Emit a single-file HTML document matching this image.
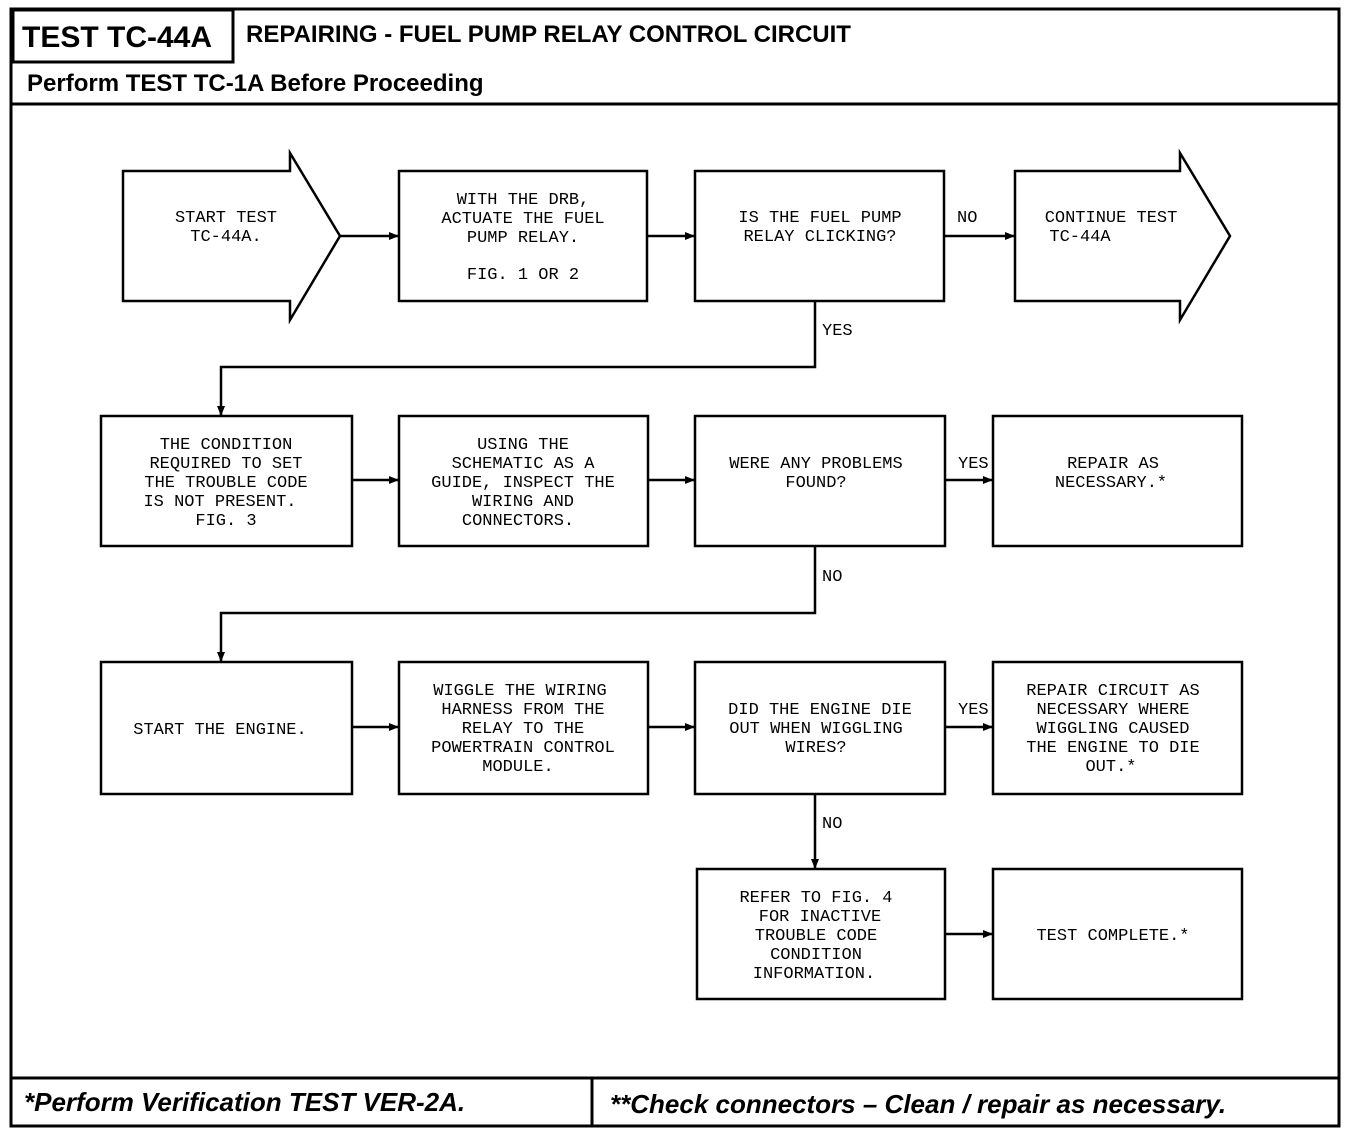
<!DOCTYPE html>
<html><head><meta charset="utf-8"><style>
body{margin:0;background:#fff}
svg{display:block}
.t{font-family:"Liberation Mono",monospace;font-size:17px;fill:#000;text-anchor:middle}
.l{font-family:"Liberation Mono",monospace;font-size:17px;fill:#000}
.h{font-family:"Liberation Sans",sans-serif;font-weight:bold;fill:#000}
</style></head><body>
<svg width="1360" height="1136" viewBox="0 0 1360 1136" xmlns="http://www.w3.org/2000/svg">
<defs><marker id="a" markerWidth="10" markerHeight="8" refX="9" refY="4" orient="auto" markerUnits="userSpaceOnUse"><path d="M0,0 L10,4 L0,8 Z" fill="#000"/></marker></defs>
<g fill="none" stroke="#000" stroke-width="3">
<rect x="11" y="9" width="1328" height="1117"/>
<rect x="13" y="10" width="220" height="52"/>
<line x1="11" y1="62" x2="13" y2="62"/>
<line x1="11" y1="104" x2="1339" y2="104"/>
<line x1="11" y1="1078" x2="1339" y2="1078"/>
<line x1="592" y1="1078" x2="592" y2="1126"/>
</g>
<text class="h" x="22" y="47" font-size="30">TEST TC-44A</text>
<text class="h" x="246" y="42" font-size="24">REPAIRING - FUEL PUMP RELAY CONTROL CIRCUIT</text>
<text class="h" x="27" y="91" font-size="24">Perform TEST TC-1A Before Proceeding</text>
<text class="h" x="24" y="1111" font-size="26" font-style="italic">*Perform Verification TEST VER-2A.</text>
<text class="h" x="610" y="1113" font-size="26" font-style="italic">**Check connectors – Clean / repair as necessary.</text>

<g fill="#fff" stroke="#000" stroke-width="2.5">
<path d="M123,171 H290 V153 L340,236 L290,320 V301 H123 Z"/>
<path d="M1015,171 H1180 V153 L1230,236 L1180,320 V301 H1015 Z"/>
<rect x="399" y="171" width="248" height="130"/>
<rect x="695" y="171" width="249" height="130"/>
<rect x="101" y="416" width="251" height="130"/>
<rect x="399" y="416" width="249" height="130"/>
<rect x="695" y="416" width="250" height="130"/>
<rect x="993" y="416" width="249" height="130"/>
<rect x="101" y="662" width="251" height="132"/>
<rect x="399" y="662" width="249" height="132"/>
<rect x="695" y="662" width="250" height="132"/>
<rect x="993" y="662" width="249" height="132"/>
<rect x="697" y="869" width="248" height="130"/>
<rect x="993" y="869" width="249" height="130"/>
</g>
<g fill="none" stroke="#000" stroke-width="2.5" marker-end="url(#a)">
<line x1="340" y1="236" x2="398" y2="236"/>
<line x1="647" y1="236" x2="694" y2="236"/>
<line x1="944" y1="236" x2="1014" y2="236"/>
<path d="M815,301 V367 H221 V415"/>
<line x1="352" y1="480" x2="398" y2="480"/>
<line x1="648" y1="480" x2="694" y2="480"/>
<line x1="945" y1="480" x2="992" y2="480"/>
<path d="M815,546 V613 H221 V661"/>
<line x1="352" y1="727" x2="398" y2="727"/>
<line x1="648" y1="727" x2="694" y2="727"/>
<line x1="945" y1="727" x2="992" y2="727"/>
<line x1="815" y1="794" x2="815" y2="868"/>
<line x1="945" y1="934" x2="992" y2="934"/>
</g>
<text class="l" x="957" y="222">NO</text>
<text class="l" x="822" y="335">YES</text>
<text class="l" x="958" y="468">YES</text>
<text class="l" x="822" y="581">NO</text>
<text class="l" x="958" y="714">YES</text>
<text class="l" x="822" y="828">NO</text>

<text class="t" x="226" y="222">START TEST</text>
<text class="t" x="226" y="241">TC-44A.</text>
<text class="t" x="523" y="204">WITH THE DRB,</text>
<text class="t" x="523" y="223">ACTUATE THE FUEL</text>
<text class="t" x="523" y="242">PUMP RELAY.</text>
<text class="t" x="523" y="279">FIG. 1 OR 2</text>
<text class="t" x="820" y="222">IS THE FUEL PUMP</text>
<text class="t" x="820" y="241">RELAY CLICKING?</text>
<text class="t" x="1111" y="222">CONTINUE TEST</text>
<text class="t" x="1080" y="241">TC-44A</text>

<text class="t" x="226" y="449">THE CONDITION</text>
<text class="t" x="226" y="468">REQUIRED TO SET</text>
<text class="t" x="226" y="487">THE TROUBLE CODE</text>
<text class="t" x="220" y="506">IS NOT PRESENT.</text>
<text class="t" x="226" y="525">FIG. 3</text>
<text class="t" x="523" y="449">USING THE</text>
<text class="t" x="523" y="468">SCHEMATIC AS A</text>
<text class="t" x="523" y="487">GUIDE, INSPECT THE</text>
<text class="t" x="523" y="506">WIRING AND</text>
<text class="t" x="518" y="525">CONNECTORS.</text>
<text class="t" x="816" y="468">WERE ANY PROBLEMS</text>
<text class="t" x="816" y="487">FOUND?</text>
<text class="t" x="1113" y="468">REPAIR AS</text>
<text class="t" x="1111" y="487">NECESSARY.*</text>

<text class="t" x="220" y="734">START THE ENGINE.</text>
<text class="t" x="520" y="695">WIGGLE THE WIRING</text>
<text class="t" x="523" y="714">HARNESS FROM THE</text>
<text class="t" x="523" y="733">RELAY TO THE</text>
<text class="t" x="523" y="752">POWERTRAIN CONTROL</text>
<text class="t" x="518" y="771">MODULE.</text>
<text class="t" x="820" y="714">DID THE ENGINE DIE</text>
<text class="t" x="816" y="733">OUT WHEN WIGGLING</text>
<text class="t" x="816" y="752">WIRES?</text>
<text class="t" x="1113" y="695">REPAIR CIRCUIT AS</text>
<text class="t" x="1113" y="714">NECESSARY WHERE</text>
<text class="t" x="1113" y="733">WIGGLING CAUSED</text>
<text class="t" x="1113" y="752">THE ENGINE TO DIE</text>
<text class="t" x="1111" y="771">OUT.*</text>

<text class="t" x="816" y="902">REFER TO FIG. 4</text>
<text class="t" x="820" y="921">FOR INACTIVE</text>
<text class="t" x="816" y="940">TROUBLE CODE</text>
<text class="t" x="816" y="959">CONDITION</text>
<text class="t" x="814" y="978">INFORMATION.</text>
<text class="t" x="1113" y="940">TEST COMPLETE.*</text>
</svg>
</body></html>
